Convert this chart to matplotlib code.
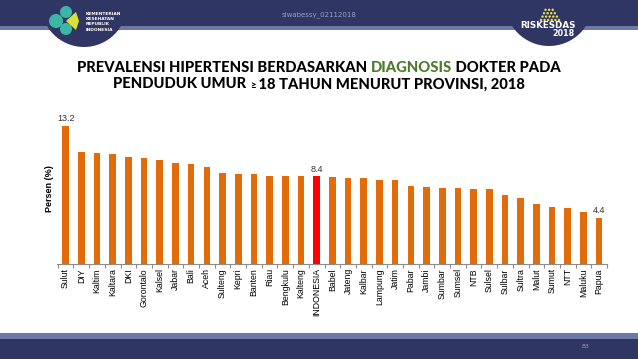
import matplotlib.pyplot as plt
import matplotlib.patches as mpatches
import numpy as np

provinces = ['Sulut', 'DIY', 'Kaltim', 'Kaltara', 'DKI', 'Gorontalo', 'Kalsel', 'Jabar',
             'Bali', 'Aceh', 'Sulteng', 'Kepri', 'Banten', 'Riau', 'Bengkulu', 'Kalteng',
             'INDONESIA', 'Babel', 'Jateng', 'Kalbar', 'Lampung', 'Jatim', 'Pabar', 'Jambi',
             'Sumbar', 'Sumsel', 'NTB', 'Sulsel', 'Sulbar', 'Sultra', 'Malut', 'Sumut',
             'NTT', 'Maluku', 'Papua']
values = [13.2, 10.7, 10.6, 10.5, 10.2, 10.1, 10.0, 9.7,
          9.6, 9.3, 8.7, 8.6, 8.6, 8.4, 8.4, 8.4,
          8.4, 8.3, 8.2, 8.2, 8.0, 8.0, 7.5, 7.4,
          7.3, 7.3, 7.2, 7.2, 6.6, 6.3, 5.7, 5.5,
          5.4, 5.0, 4.4]
labelled = ['Sulut', 'INDONESIA', 'Papua']

W, H = 638, 359
fig = plt.figure(figsize=(W / 100, H / 100), dpi=100)
fig.patch.set_facecolor('white')

# background decoration in pixel coords
bg = fig.add_axes([0, 0, 1, 1])
bg.set_xlim(0, W)
bg.set_ylim(H, 0)
bg.axis('off')
navy = '#2F3664'
stripe = '#6E78A6'
bg.add_patch(mpatches.Rectangle((0, 0), W, 30, color=stripe, lw=0))
bg.add_patch(mpatches.Rectangle((0, 0), W, 26, color=navy, lw=0))
bg.add_patch(mpatches.Circle((84, 4), 43, color=navy, lw=0))
bg.add_patch(mpatches.Circle((549, 2), 44, color=navy, lw=0))
bg.add_patch(mpatches.Rectangle((0, 333), W, 26, color=stripe, lw=0))
bg.add_patch(mpatches.Rectangle((0, 339), W, 20, color=navy, lw=0))

# left logo (rough)
bg.add_patch(mpatches.Circle((56, 21), 7, color='#3DB7A5', lw=0))
bg.add_patch(mpatches.Circle((66, 12), 6, color='#3DB7A5', lw=0))
bg.add_patch(mpatches.Circle((66, 29), 6, color='#3DB7A5', lw=0))
bg.add_patch(mpatches.Polygon([[66, 21], [76, 12], [79, 21], [76, 30]], color='#D8E03A', lw=0))
for i, t in enumerate(['KEMENTERIAN', 'KESEHATAN', 'REPUBLIK', 'INDONESIA']):
    bg.text(86, 14 + i * 5.2, t, fontsize=3.2, color='white', fontweight='bold', va='center')

# right logo (rough)
for r in range(4):
    for c in range(6 - r):
        bg.add_patch(mpatches.Circle((541 + c * 3.6 + r * 1.5, 20 - r * 3.4), 1.2,
                                     color='#E8E04A', lw=0))
bg.text(548, 25.5, 'RISKESDAS', fontsize=6.3, color='white', fontweight='bold',
        ha='center', va='center')
bg.text(575, 33.5, '2018', fontsize=5.8, color='white', fontweight='bold', ha='right',
        va='center')

bg.text(319, 15, 'siwabessy_02112018', fontsize=5, color='#9AA0C0', ha='center', va='center')
bg.text(586, 346, '83', fontsize=4.5, color='#9AA0C0', ha='center', va='center')

# title in coloured pieces, centred line by line
renderer = fig.canvas.get_renderer()


def piece_line(parts, y):
    texts = [bg.text(0, y, s, fontsize=fs, fontweight='black', color=col,
                     va='baseline', ha='left', family='Lato') for s, col, fs in parts]
    widths = [t.get_window_extent(renderer).width for t in texts]
    x0 = W / 2 - sum(widths) / 2
    for t, w in zip(texts, widths):
        t.set_x(x0)
        x0 += w


piece_line([('PREVALENSI HIPERTENSI BERDASARKAN ', 'black', 10.6),
            ('DIAGNOSIS', '#4E7A2E', 10.6),
            (' DOKTER PADA', 'black', 10.6)], 71.5)
piece_line([('PENDUDUK UMUR ', 'black', 10.6), ('\u2265', 'black', 7),
            (' 18 TAHUN MENURUT PROVINSI, 2018', 'black', 10.6)], 88.5)

# chart
ax = fig.add_axes([57 / W, 1 - 264 / H, 550 / W, 151.5 / H])
ax.patch.set_alpha(0)
x = np.arange(len(provinces))
colors = ['#FF0000' if p == 'INDONESIA' else '#E36C0A' for p in provinces]
ax.bar(x, values, width=0.42, color=colors)
for xi, p, v in zip(x, provinces, values):
    if p in labelled:
        ax.text(xi, v + 0.25, f'{v}', ha='center', va='bottom', fontsize=6.5,
                color='#333333', family='Liberation Sans')
ax.set_xlim(-0.55, len(provinces) - 0.54)
ax.set_ylim(0, 14.5)
for s in ['left', 'right', 'top']:
    ax.spines[s].set_visible(False)
ax.spines['bottom'].set_color('#8C8C8C')
ax.spines['bottom'].set_linewidth(0.8)
ax.set_yticks([])
ax.set_xticks(x)
ax.set_xticklabels(provinces, rotation=90, fontsize=6.3, family='Liberation Sans')
ax.tick_params(axis='x', which='major', length=0, pad=3)
ax.set_xticks(np.arange(-0.5, len(provinces), 1), minor=True)
ax.tick_params(axis='x', which='minor', length=3, color='#8C8C8C', width=0.8)
ax.set_ylabel('Persen (%)', fontsize=6.5, fontweight='bold', family='Liberation Sans',
              labelpad=2)

fig.savefig('out.png', dpi=100)
